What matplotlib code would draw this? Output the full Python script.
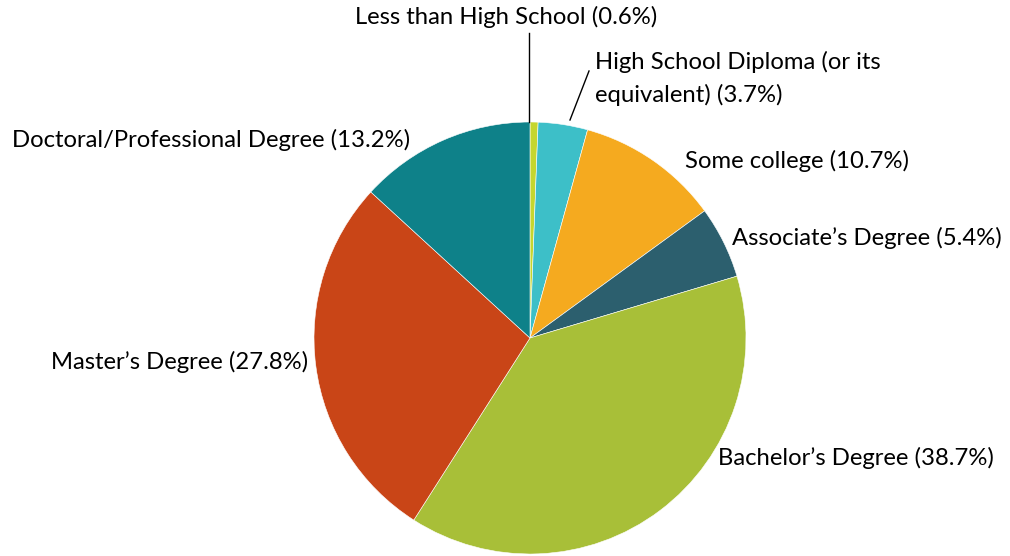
import matplotlib
matplotlib.use("Agg")
import matplotlib.pyplot as plt

plt.rcParams['font.family'] = ['Lato', 'DejaVu Sans']

categories = ["Less than High School", "High School Diploma (or its\nequivalent)",
              "Some college", "Associate\u2019s Degree", "Bachelor\u2019s Degree",
              "Master\u2019s Degree", "Doctoral/Professional Degree"]
shares = [0.6, 3.7, 10.7, 5.4, 38.7, 27.8, 13.2]
colors = ["#c5d62e", "#3dbfc8", "#f5aa1f", "#2c5f6e", "#a8bf38", "#c94517", "#0e8189"]

W, H = 1010, 556
fig = plt.figure(figsize=(W / 100, H / 100), dpi=100)
ax = fig.add_axes([0, 0, 1, 1])
ax.axis('off')

# pie in pixel coords (y flipped, so angles go the other way)
ax.pie(shares, colors=colors, center=(530, 338), radius=216,
       startangle=-90, counterclock=True,
       wedgeprops=dict(edgecolor='white', linewidth=0.4))
ax.set_xlim(0, W)
ax.set_ylim(H, 0)

labels = [f"{c} ({s}%)" for c, s in zip(categories, shares)]
fs = 17.2
ax.text(506, 17, labels[0], ha='center', va='center', fontsize=fs)
ax.plot([529, 529], [33, 122], color='black', lw=1)
ax.text(595, 78, labels[1], ha='left', va='center', fontsize=fs, linespacing=1.6)
ax.plot([570, 589], [120, 71], color='black', lw=1)
ax.text(685, 161, labels[2], ha='left', va='center', fontsize=fs)
ax.text(732, 238, labels[3], ha='left', va='center', fontsize=fs)
ax.text(718, 458, labels[4], ha='left', va='center', fontsize=fs)
ax.text(308, 362, labels[5], ha='right', va='center', fontsize=fs)
ax.text(410, 140, labels[6], ha='right', va='center', fontsize=fs)

fig.savefig("out.png", dpi=100)
